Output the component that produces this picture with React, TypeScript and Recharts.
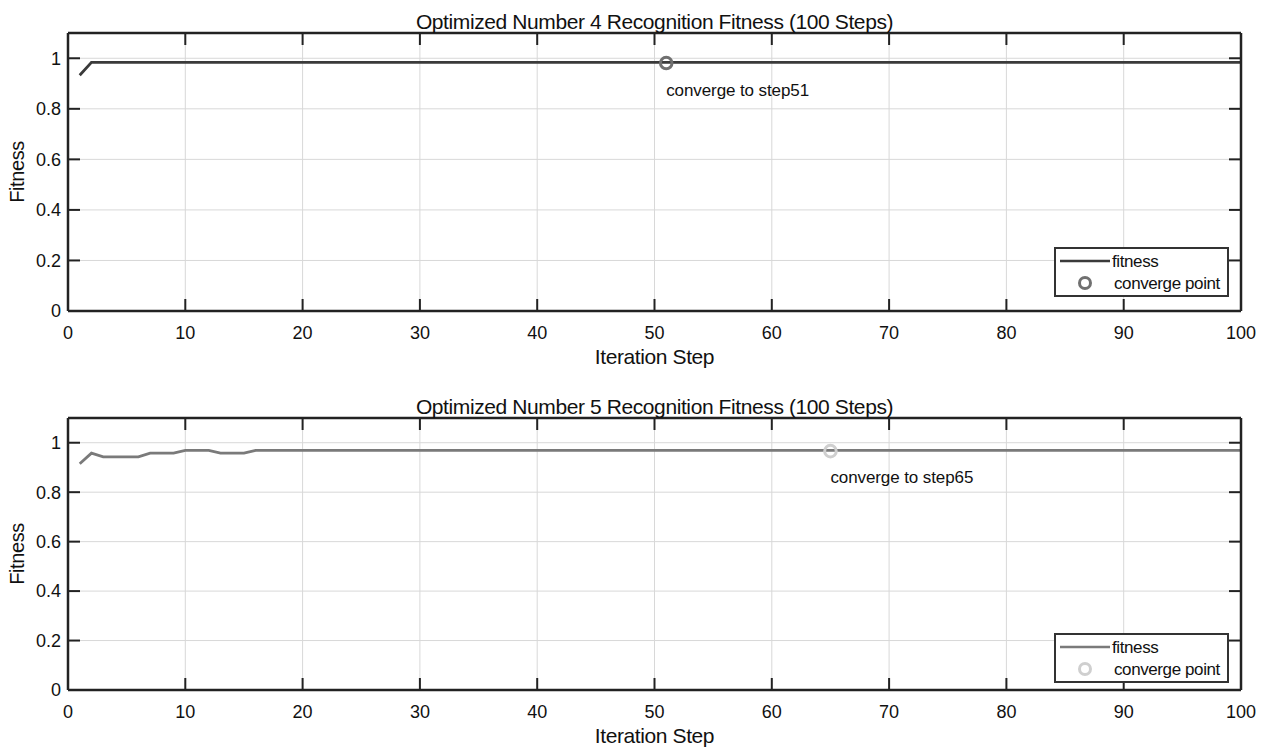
import React from 'react';
import { ComposedChart, Line, Scatter, XAxis, YAxis, CartesianGrid, Legend, Label } from 'recharts';

const steps = [
  1, 2, 3, 4, 5, 6, 7, 8, 9, 10,
  11, 12, 13, 14, 15, 16, 17, 18, 19, 20,
  21, 22, 23, 24, 25, 26, 27, 28, 29, 30,
  31, 32, 33, 34, 35, 36, 37, 38, 39, 40,
  41, 42, 43, 44, 45, 46, 47, 48, 49, 50,
  51, 52, 53, 54, 55, 56, 57, 58, 59, 60,
  61, 62, 63, 64, 65, 66, 67, 68, 69, 70,
  71, 72, 73, 74, 75, 76, 77, 78, 79, 80,
  81, 82, 83, 84, 85, 86, 87, 88, 89, 90,
  91, 92, 93, 94, 95, 96, 97, 98, 99, 100,
];

const fitness4 = [
  0.933, 0.984, 0.984, 0.984, 0.984, 0.984, 0.984, 0.984, 0.984, 0.984,
  0.984, 0.984, 0.984, 0.984, 0.984, 0.984, 0.984, 0.984, 0.984, 0.984,
  0.984, 0.984, 0.984, 0.984, 0.984, 0.984, 0.984, 0.984, 0.984, 0.984,
  0.984, 0.984, 0.984, 0.984, 0.984, 0.984, 0.984, 0.984, 0.984, 0.984,
  0.984, 0.984, 0.984, 0.984, 0.984, 0.984, 0.984, 0.984, 0.984, 0.984,
  0.984, 0.984, 0.984, 0.984, 0.984, 0.984, 0.984, 0.984, 0.984, 0.984,
  0.984, 0.984, 0.984, 0.984, 0.984, 0.984, 0.984, 0.984, 0.984, 0.984,
  0.984, 0.984, 0.984, 0.984, 0.984, 0.984, 0.984, 0.984, 0.984, 0.984,
  0.984, 0.984, 0.984, 0.984, 0.984, 0.984, 0.984, 0.984, 0.984, 0.984,
  0.984, 0.984, 0.984, 0.984, 0.984, 0.984, 0.984, 0.984, 0.984, 0.984,
];

const fitness5 = [
  0.915, 0.958, 0.943, 0.943, 0.943, 0.943, 0.958, 0.958, 0.958, 0.969,
  0.969, 0.969, 0.958, 0.958, 0.958, 0.969, 0.969, 0.969, 0.969, 0.969,
  0.969, 0.969, 0.969, 0.969, 0.969, 0.969, 0.969, 0.969, 0.969, 0.969,
  0.969, 0.969, 0.969, 0.969, 0.969, 0.969, 0.969, 0.969, 0.969, 0.969,
  0.969, 0.969, 0.969, 0.969, 0.969, 0.969, 0.969, 0.969, 0.969, 0.969,
  0.969, 0.969, 0.969, 0.969, 0.969, 0.969, 0.969, 0.969, 0.969, 0.969,
  0.969, 0.969, 0.969, 0.969, 0.969, 0.969, 0.969, 0.969, 0.969, 0.969,
  0.969, 0.969, 0.969, 0.969, 0.969, 0.969, 0.969, 0.969, 0.969, 0.969,
  0.969, 0.969, 0.969, 0.969, 0.969, 0.969, 0.969, 0.969, 0.969, 0.969,
  0.969, 0.969, 0.969, 0.969, 0.969, 0.969, 0.969, 0.969, 0.969, 0.969,
];

const convergeStep4 = [51];
const convergeValue4 = [0.981];
const convergeStep5 = [65];
const convergeValue5 = [0.966];

const xTicks = [0, 10, 20, 30, 40, 50, 60, 70, 80, 90, 100];
const yTicks = [0, 0.2, 0.4, 0.6, 0.8, 1];

const titles = [
  'Optimized Number 4 Recognition Fitness (100 Steps)',
  'Optimized Number 5 Recognition Fitness (100 Steps)',
];

const FONT = '"Liberation Sans", Arial, sans-serif';
const TEXT = '#111111';
const AXIS = '#222222';

type PanelProps = {
  values: number[];
  cStep: number[];
  cValue: number[];
  title: string;
  lineColor: string;
  ringColor: string;
  marginTop: number;
  marginBottom: number;
  legendTop: number;
  annotationDy: number;
  titleDy: number;
};

function LegendBox({ lineColor, ringColor }: { lineColor: string; ringColor: string }) {
  return (
    <svg width={175} height={50} style={{ display: 'block' }}>
      <rect x={1} y={1} width={173} height={48} fill="#ffffff" stroke="#333" strokeWidth={2} />
      <line x1={6} y1={14} x2={56} y2={14} stroke={lineColor} strokeWidth={2.5} />
      <text x={58} y={20} fontSize={17} fill={TEXT} fontFamily={FONT} letterSpacing={-0.4}>fitness</text>
      <circle cx={31} cy={36} r={5.5} fill="none" stroke={ringColor} strokeWidth={3} />
      <text x={60} y={42} fontSize={17} fill={TEXT} fontFamily={FONT} letterSpacing={-0.4}>converge point</text>
    </svg>
  );
}

function Panel(p: PanelProps) {
  const rows = steps.map((s, i) => ({ step: s, fitness: p.values[i] }));
  const conv = p.cStep.map((s, i) => ({ step: s, fitness: p.cValue[i] }));
  const height = 376;
  const tickStyle = { fill: TEXT, fontSize: 18, fontFamily: FONT };
  return (
    <ComposedChart
      width={1266}
      height={height}
      data={rows}
      margin={{ top: p.marginTop, right: 24, bottom: p.marginBottom, left: 8 }}
    >
      <CartesianGrid stroke="#d8d8d8" strokeWidth={1} />
      <XAxis
        dataKey="step"
        type="number"
        domain={[0, 100]}
        ticks={xTicks}
        interval={0}
        allowDataOverflow
        height={30}
        tickSize={-12}
        tickMargin={27}
        tick={tickStyle}
        axisLine={{ stroke: AXIS, strokeWidth: 2.5 }}
        tickLine={{ stroke: AXIS, strokeWidth: 2 }}
      >
        <Label
          content={(props: any) => {
            const vb = props.viewBox || {};
            return (
              <text x={vb.x + vb.width / 2} y={vb.y + 53} textAnchor="middle" fontSize={21} fill={TEXT} fontFamily={FONT} letterSpacing={-0.4}>
                Iteration Step
              </text>
            );
          }}
        />
      </XAxis>
      <XAxis
        xAxisId="top"
        orientation="top"
        dataKey="step"
        type="number"
        domain={[0, 100]}
        ticks={xTicks}
        interval={0}
        allowDataOverflow
        height={1}
        tickSize={-12}
        tickFormatter={() => ''}
        axisLine={{ stroke: AXIS, strokeWidth: 2.5 }}
        tickLine={{ stroke: AXIS, strokeWidth: 2 }}
      >
        <Label
          content={(props: any) => {
            const vb = props.viewBox || {};
            return (
              <text x={vb.x + vb.width / 2} y={vb.y + vb.height + p.titleDy} textAnchor="middle" fontSize={21} fill={TEXT} fontFamily={FONT} letterSpacing={-0.4}>
                {p.title}
              </text>
            );
          }}
        />
      </XAxis>
      <YAxis
        type="number"
        domain={[0, 1.1]}
        ticks={yTicks}
        interval={0}
        allowDataOverflow
        width={60}
        tickSize={-12}
        tickMargin={19}
        tick={tickStyle}
        axisLine={{ stroke: AXIS, strokeWidth: 2.5 }}
        tickLine={{ stroke: AXIS, strokeWidth: 2 }}
      >
        <Label
          content={(props: any) => {
            const vb = props.viewBox || {};
            const cy = vb.y + vb.height / 2;
            return (
              <text x={24} y={cy} transform={`rotate(-90 24 ${cy})`} textAnchor="middle" fontSize={20} fill={TEXT} fontFamily={FONT} letterSpacing={-0.4}>
                Fitness
              </text>
            );
          }}
        />
      </YAxis>
      <YAxis
        yAxisId="right"
        orientation="right"
        type="number"
        domain={[0, 1.1]}
        ticks={yTicks}
        interval={0}
        allowDataOverflow
        width={1}
        tickSize={-12}
        tickFormatter={() => ''}
        axisLine={{ stroke: AXIS, strokeWidth: 2.5 }}
        tickLine={{ stroke: AXIS, strokeWidth: 2 }}
      />
      <Line
        type="linear"
        dataKey="fitness"
        name="fitness"
        stroke={p.lineColor}
        strokeWidth={2.8}
        dot={false}
        activeDot={false}
        isAnimationActive={false}
      />
      <Scatter
        data={conv}
        dataKey="fitness"
        name="converge point"
        isAnimationActive={false}
        shape={(sp: any) => (
          <g>
            <circle cx={sp.cx} cy={sp.cy} r={5.8} fill="none" stroke={p.ringColor} strokeWidth={3} />
            <text x={sp.cx} y={sp.cy + p.annotationDy} fontSize={17} fill={TEXT} fontFamily={FONT} letterSpacing={-0.1}>
              {`converge to step${sp.payload ? sp.payload.step : ''}`}
            </text>
          </g>
        )}
      />
      <Legend
        layout="horizontal"
        verticalAlign="middle"
        align="center"
        wrapperStyle={{ left: 1054, top: p.legendTop, width: 175, height: 50 }}
        content={() => <LegendBox lineColor={p.lineColor} ringColor={p.ringColor} />}
      />
    </ComposedChart>
  );
}

export default function App() {
  return (
    <div style={{ position: 'absolute', left: 0, top: 0, width: 1266, height: 752, background: '#fff', fontFamily: FONT }}>
      <div style={{ position: 'absolute', left: 0, top: 0 }}>
        <Panel
          values={fitness4}
          cStep={convergeStep4}
          cValue={convergeValue4}
          title={titles[0]}
          lineColor="#3a3a3a"
          ringColor="#707070"
          marginTop={32}
          marginBottom={35}
          legendTop={247}
          annotationDy={33}
          titleDy={-4}
        />
      </div>
      <div style={{ position: 'absolute', left: 0, top: 376 }}>
        <Panel
          values={fitness5}
          cStep={convergeStep5}
          cValue={convergeValue5}
          title={titles[1]}
          lineColor="#7a7a7a"
          ringColor="#cfcfcf"
          marginTop={41}
          marginBottom={32}
          legendTop={257}
          annotationDy={32}
          titleDy={-4}
        />
      </div>
    </div>
  );
}
